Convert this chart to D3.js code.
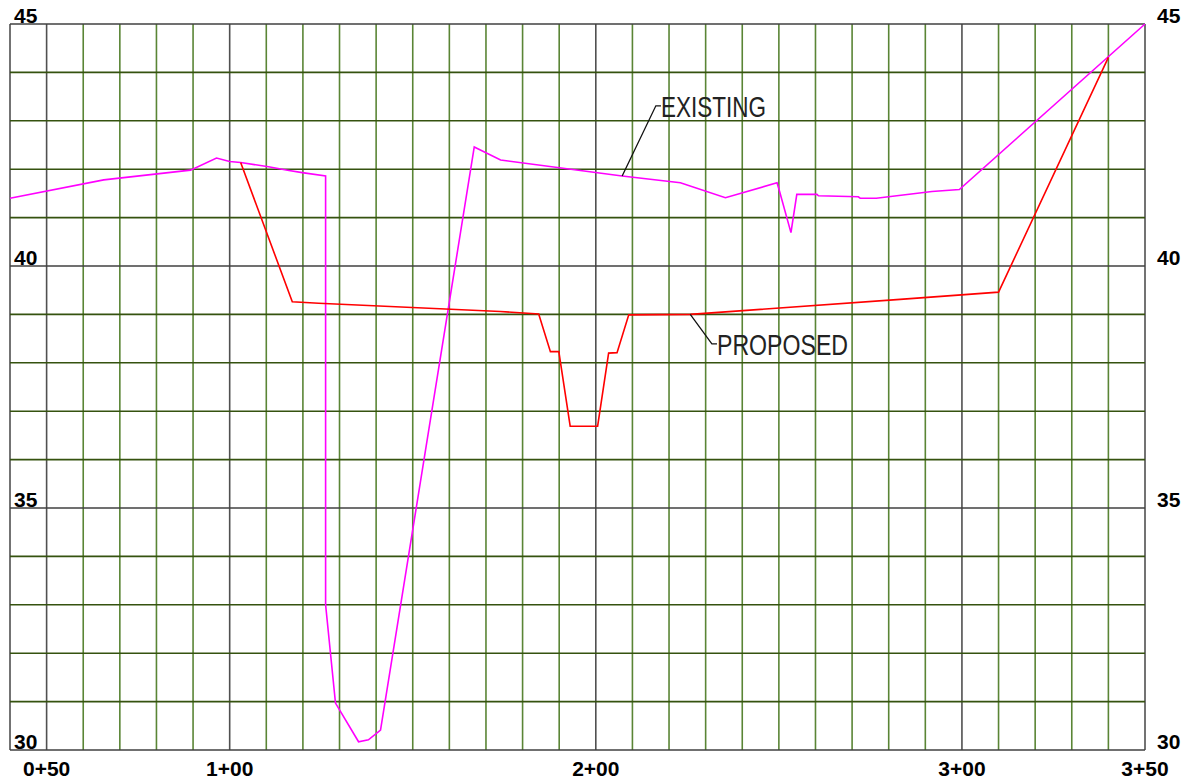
<!DOCTYPE html>
<html>
<head>
<meta charset="utf-8">
<script src="https://cdn.jsdelivr.net/npm/d3@7"></script>
<style>
  body { margin: 0; background: #fff; }
  svg { display: block; }
  .tick-label { font-family: "Liberation Sans Narrow", "Arial Narrow", "Liberation Sans", sans-serif; font-weight: bold; font-size: 21px; fill: #000; }
  .note { font-family: "Liberation Sans Narrow", "Arial Narrow", "Liberation Sans", sans-serif; font-size: 30px; fill: #222; }
</style>
</head>
<body>
<svg id="chart" width="1181" height="784"></svg>
<script>
// station (ft) / elevation values
const existingStation = [40, 65.6, 89.3, 96.4, 100, 103, 110.6, 115.8, 119.8, 126.2, 126.2, 128.9, 135.2, 137.9, 141.2, 166.8, 174, 207.2, 223.1, 235.4, 249.5, 250.2, 253.3, 254.9, 260.4, 260.8, 271.7, 272.2, 276.6, 291.8, 299.3, 350]
const existingElev    = [41.40, 41.78, 41.98, 42.23, 42.16, 42.14, 42.05, 41.98, 41.93, 41.86, 33.0, 30.97, 30.17, 30.21, 30.41, 42.46, 42.19, 41.86, 41.72, 41.41, 41.72, 41.54, 40.69, 41.48, 41.48, 41.45, 41.43, 41.40, 41.40, 41.54, 41.58, 45.0]

const proposedStation = [103, 117.1, 124.3, 173.9, 184.4, 187.6, 189.9, 193.0, 200.5, 203.5, 205.8, 209.0, 225.8, 283.1, 310, 340]
const proposedElev    = [42.14, 39.26, 39.23, 39.06, 39.01, 38.23, 38.23, 36.69, 36.69, 38.2, 38.21, 38.99, 39.0, 39.31, 39.46, 44.31]

const stationTicks = [50, 100, 200, 300, 350]
const stationLabels = ["0+50", "1+00", "2+00", "3+00", "3+50"]
const elevTicks = [30, 35, 40, 45]
const elevLabels = ["30", "35", "40", "45"]

// callouts: anchor on line, elbow, text
const notes = [
  {text: "EXISTING", s0: 207.2, e0: 41.86, s1: 216.4, e1: 43.31, s2: 217.8, len: 105, dy: 11},
  {text: "PROPOSED", s0: 225.8, e0: 39.0, s1: 231.7, e1: 38.39, s2: 233.1, len: 131, dy: 11}
]

const svg = d3.select("#chart")

const x = d3.scaleLinear().domain([40, 350]).range([10, 1145])
const y = d3.scaleLinear().domain([30, 45]).range([750, 24])

const grid = svg.append("g")

// vertical lines every 10 ft
const vLines = d3.range(40, 351, 10)
grid.selectAll(".v")
    .data(vLines)
    .join("line")
    .attr("x1", d => x(d)).attr("x2", d => x(d))
    .attr("y1", y(30)).attr("y2", y(45))
    .attr("stroke", d => (stationTicks.includes(d) || d == 40) ? "#505050" : "#5a8535")
    .attr("stroke-width", 1.6)

// horizontal lines every 1 ft
const hLines = d3.range(30, 45.5, 1)
grid.selectAll(".h")
    .data(hLines)
    .join("line")
    .attr("x1", x(40)).attr("x2", x(350))
    .attr("y1", d => y(d)).attr("y2", d => y(d))
    .attr("stroke", d => elevTicks.includes(d) ? "#404040" : "#35520f")
    .attr("stroke-width", 1.6)

const line = d3.line().x(d => x(d[0])).y(d => y(d[1]))

svg.append("path")
    .datum(existingStation.map((s, i) => [s, existingElev[i]]))
    .attr("d", line)
    .attr("fill", "none")
    .attr("stroke", "#ff00ff")
    .attr("stroke-width", 1.6)

svg.append("path")
    .datum(proposedStation.map((s, i) => [s, proposedElev[i]]))
    .attr("d", line)
    .attr("fill", "none")
    .attr("stroke", "#ff0000")
    .attr("stroke-width", 1.6)

// station labels
svg.selectAll(".sl")
    .data(stationTicks)
    .join("text")
    .attr("class", "tick-label")
    .attr("x", d => x(d))
    .attr("y", 776)
    .attr("text-anchor", "middle")
    .text((d, i) => stationLabels[i])

// elevation labels, both sides
svg.selectAll(".el")
    .data(elevTicks)
    .join("text")
    .attr("class", "tick-label")
    .attr("x", x(40) + 4)
    .attr("y", d => y(d) - 1)
    .text((d, i) => elevLabels[i])

svg.selectAll(".er")
    .data(elevTicks)
    .join("text")
    .attr("class", "tick-label")
    .attr("x", x(350) + 12)
    .attr("y", d => y(d) - 1)
    .text((d, i) => elevLabels[i])

// callouts
notes.forEach(n => {
  svg.append("polyline")
      .attr("points", [[x(n.s0), y(n.e0)], [x(n.s1), y(n.e1)], [x(n.s2), y(n.e1)]].map(p => p.join(",")).join(" "))
      .attr("fill", "none")
      .attr("stroke", "#111")
      .attr("stroke-width", 1.3)
  svg.append("text")
      .attr("class", "note")
      .attr("x", x(n.s2))
      .attr("y", y(n.e1) + n.dy)
      .attr("textLength", n.len)
      .attr("lengthAdjust", "spacingAndGlyphs")
      .text(n.text)
})
</script>
</body>
</html>
